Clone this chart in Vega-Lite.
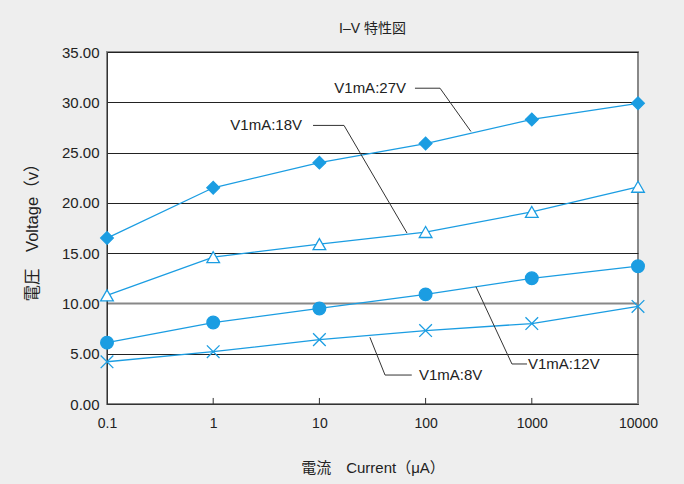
{
  "$schema": "https://vega.github.io/schema/vega-lite/v6.json",
  "width": 531,
  "height": 352,
  "autosize": {"type": "none"},
  "padding": {"left": 107, "top": 52, "right": 46, "bottom": 80},
  "background": "#eeeeee",
  "config": {
    "font": "Liberation Sans, Noto Sans CJK JP",
    "view": {"fill": "white", "stroke": "#888888", "strokeWidth": 2}
  },
  "title": {
    "text": "I–V 特性図",
    "fontSize": 14,
    "fontWeight": "normal",
    "color": "#222222",
    "offset": 9
  },
  "datasets": {
    "pts": [
      {"s": "27V", "x": 0.1, "y": 16.5},
      {"s": "27V", "x": 1, "y": 21.5},
      {"s": "27V", "x": 10, "y": 24.0},
      {"s": "27V", "x": 100, "y": 25.9},
      {"s": "27V", "x": 1000, "y": 28.3},
      {"s": "27V", "x": 10000, "y": 29.9},
      {"s": "18V", "x": 0.1, "y": 10.8},
      {"s": "18V", "x": 1, "y": 14.6},
      {"s": "18V", "x": 10, "y": 15.9},
      {"s": "18V", "x": 100, "y": 17.1},
      {"s": "18V", "x": 1000, "y": 19.1},
      {"s": "18V", "x": 10000, "y": 21.6},
      {"s": "12V", "x": 0.1, "y": 6.1},
      {"s": "12V", "x": 1, "y": 8.1},
      {"s": "12V", "x": 10, "y": 9.5},
      {"s": "12V", "x": 100, "y": 10.9},
      {"s": "12V", "x": 1000, "y": 12.5},
      {"s": "12V", "x": 10000, "y": 13.7},
      {"s": "8V", "x": 0.1, "y": 4.2},
      {"s": "8V", "x": 1, "y": 5.2},
      {"s": "8V", "x": 10, "y": 6.4},
      {"s": "8V", "x": 100, "y": 7.3},
      {"s": "8V", "x": 1000, "y": 8.0},
      {"s": "8V", "x": 10000, "y": 9.7}
    ],
    "ticks": [
      {"x": 1}, {"x": 10}, {"x": 100}, {"x": 1000}
    ],
    "leaders": [
      {"id": "27V", "o": 1, "x": 79.4, "y": 31.4},
      {"id": "27V", "o": 2, "x": 136.7, "y": 31.4},
      {"id": "27V", "o": 3, "x": 267, "y": 27.1},
      {"id": "18V", "o": 1, "x": 8.71, "y": 27.7},
      {"id": "18V", "o": 2, "x": 17.05, "y": 27.7},
      {"id": "18V", "o": 3, "x": 66.8, "y": 17.0},
      {"id": "12V", "o": 1, "x": 298, "y": 11.66},
      {"id": "12V", "o": 2, "x": 650, "y": 3.98},
      {"id": "12V", "o": 3, "x": 901, "y": 3.98},
      {"id": "8V", "o": 1, "x": 29.9, "y": 6.63},
      {"id": "8V", "o": 2, "x": 41.5, "y": 2.88},
      {"id": "8V", "o": 3, "x": 74.1, "y": 2.88}
    ],
    "labels": [
      {"t": "V1mA:27V", "x": 71.3, "y": 31.4, "a": "right"},
      {"t": "V1mA:18V", "x": 7.48, "y": 27.7, "a": "right"},
      {"t": "V1mA:12V", "x": 901, "y": 3.98, "a": "left"},
      {"t": "V1mA:8V", "x": 84.7, "y": 2.88, "a": "left"}
    ]
  },
  "layer": [
    {
      "data": {"name": "pts"},
      "mark": {"type": "line", "color": "#1b9de2", "strokeWidth": 1.3},
      "encoding": {
        "x": {
          "field": "x", "type": "quantitative",
          "scale": {"type": "log", "domain": [0.1, 10000]},
          "axis": {
            "values": [0.1, 1, 10, 100, 1000, 10000],
            "labelExpr": "datum.value < 1 ? '0.1' : format(datum.value, 'd')",
            "labelFlush": false,
            "grid": false,
            "ticks": false,
            "domainColor": "#333333",
            "labelPadding": 12,
            "labelFontSize": 14,
            "labelColor": "#222222",
            "title": "電流　Current（μA）",
            "titleFontSize": 15,
            "titleFontWeight": "normal",
            "titleColor": "#222222",
            "titlePadding": 30
          }
        },
        "y": {
          "field": "y", "type": "quantitative",
          "scale": {"domain": [0, 35]},
          "axis": {
            "values": [0, 5, 10, 15, 20, 25, 30, 35],
            "format": ".2f",
            "ticks": false,
            "labelPadding": 8,
            "labelFontSize": 15,
            "labelColor": "#222222",
            "domainColor": "#333333",
            "gridColor": {"condition": {"test": "datum.value === 10", "value": "#888888"}, "value": "#222222"},
            "gridWidth": {"condition": {"test": "datum.value === 10", "value": 2}, "value": 1},
            "gridOpacity": 1,
            "title": "電圧　Voltage（v）",
            "titleFontSize": 16.5,
            "titleFontWeight": "normal",
            "titleColor": "#222222",
            "titlePadding": 21
          }
        },
        "detail": {"field": "s"}
      }
    },
    {
      "data": {"name": "ticks"},
      "mark": {"type": "rule", "color": "#333333", "strokeWidth": 1},
      "encoding": {
        "x": {"field": "x", "type": "quantitative"},
        "y": {"datum": 0, "type": "quantitative"},
        "y2": {"datum": 0.6}
      }
    },
    {
      "data": {"name": "pts"},
      "mark": {"type": "point", "opacity": 1, "strokeWidth": 1.3, "stroke": "#1b9de2"},
      "encoding": {
        "x": {"field": "x", "type": "quantitative"},
        "y": {"field": "y", "type": "quantitative"},
        "shape": {
          "field": "s", "type": "nominal", "legend": null,
          "scale": {"domain": ["27V", "18V", "12V", "8V"], "range": ["diamond", "triangle-up", "circle", "M-1,-1L1,1M1,-1L-1,1"]}
        },
        "fill": {
          "field": "s", "type": "nominal", "legend": null,
          "scale": {"domain": ["27V", "18V", "12V", "8V"], "range": ["#1b9de2", "#ffffff", "#1b9de2", "transparent"]}
        },
        "size": {
          "field": "s", "type": "nominal", "legend": null,
          "scale": {"domain": ["27V", "18V", "12V", "8V"], "range": [160, 160, 170, 121]}
        }
      }
    },
    {
      "data": {"name": "leaders"},
      "mark": {"type": "line", "color": "#333333", "strokeWidth": 1},
      "encoding": {
        "x": {"field": "x", "type": "quantitative"},
        "y": {"field": "y", "type": "quantitative"},
        "detail": {"field": "id"},
        "order": {"field": "o"}
      }
    },
    {
      "data": {"name": "labels"},
      "transform": [{"filter": "datum.a === 'right'"}],
      "mark": {"type": "text", "align": "right", "baseline": "middle", "fontSize": 15, "color": "#222222", "dx": -4},
      "encoding": {
        "x": {"field": "x", "type": "quantitative"},
        "y": {"field": "y", "type": "quantitative"},
        "text": {"field": "t"}
      }
    },
    {
      "data": {"name": "labels"},
      "transform": [{"filter": "datum.a === 'left'"}],
      "mark": {"type": "text", "align": "left", "baseline": "middle", "fontSize": 15, "color": "#222222", "dx": 1},
      "encoding": {
        "x": {"field": "x", "type": "quantitative"},
        "y": {"field": "y", "type": "quantitative"},
        "text": {"field": "t"}
      }
    }
  ]
}
